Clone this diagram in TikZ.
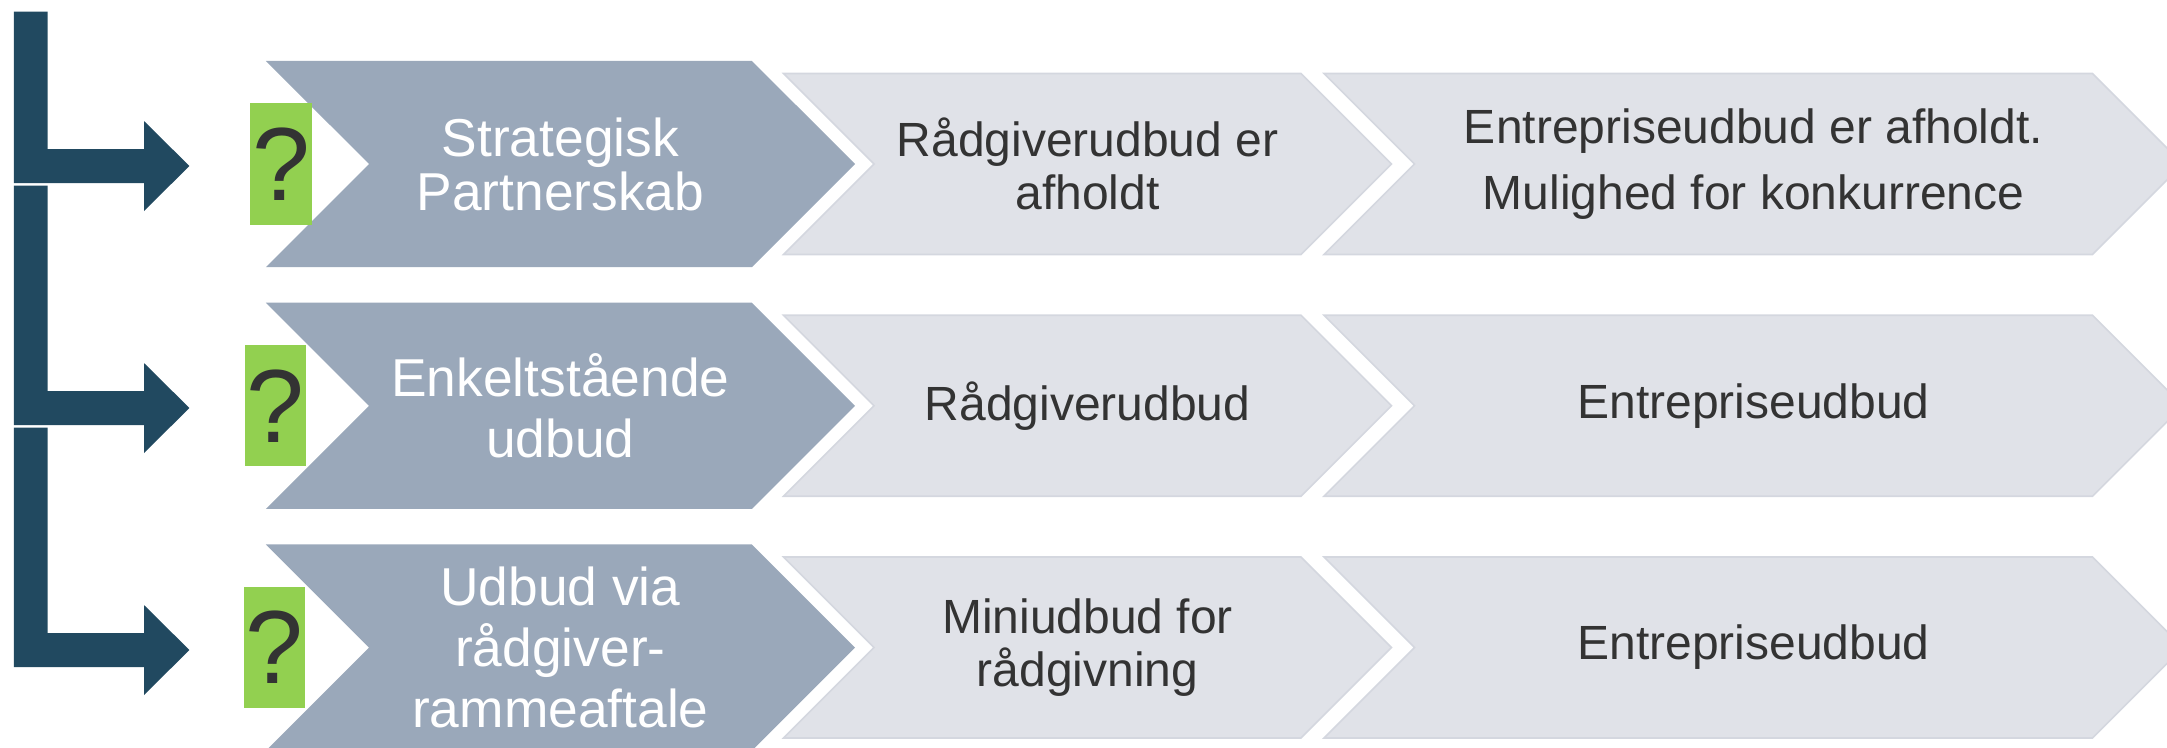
\documentclass[tikz,border=0pt]{standalone}
\usepackage{fontspec}
\setmainfont{Liberation Sans}
\usetikzlibrary{shapes.symbols}
\definecolor{pilblaa}{RGB}{33,73,96}
\definecolor{formgraa}{RGB}{154,168,186}
\definecolor{faselys}{RGB}{224,226,232}
\definecolor{fasekant}{RGB}{212,215,223}
\definecolor{spmgroen}{RGB}{146,208,80}
\definecolor{tekstgraa}{RGB}{51,51,51}

\begin{document}
\begin{tikzpicture}
[x=0.375pt,y=-0.375pt,
chev/.style={signal,signal from=west,signal to=east,signal pointer angle=90,inner sep=0pt,align=center},
form/.style={chev,fill=formgraa,text=white,minimum width=220.95pt,minimum height=77.4pt},
fase/.style={chev,fill=faselys,draw=fasekant,line width=0.6pt,text=tekstgraa,minimum height=67.9pt},
spm/.style={rectangle,fill=spmgroen,minimum width=22.9pt,minimum height=45.4pt,inner sep=0pt,text=tekstgraa,font=\fontsize{39}{42}\selectfont},
pil/.style={fill=pilblaa}]
\useasboundingbox (0,0) rectangle (2167,747);
%%%%% BRACKET ARROWS
\foreach \r/\top in {0/11.7,1/185.5,2/427.5}
{
	\pgfmathsetmacro\ya{166+242*\r}
	\fill[pil] (13.8,\top) -- (47.6,\top) |- (144,\ya-17) -- (144,\ya-45) -- (189.4,\ya) -- (144,\ya+45) -- (144,\ya+17) -- (13.8,\ya+17) -- cycle;
};
%%%%% ROWS
\foreach \r/\gx/\dtxt/\dskip/\mtxt/\ltxt in {0/281/{Strategisk\\Partnerskab}/20.25/{Rådgiverudbud er\\afholdt}/{Entrepriseudbud er afholdt.\\Mulighed for konkurrence},
1/275.5/{Enkeltstående\\udbud}/23/{Rådgiverudbud}/{Entrepriseudbud},
2/274.5/{Udbud via\\rådgiver-\\rammeaftale}/23/{Miniudbud for\\rådgivning}/{Entrepriseudbud}}
{
	\pgfmathsetmacro\yr{164+241.75*\r}
	\node[form,font=\fontsize{20}{\dskip}\selectfont] (form\r) at (560.4,\yr) {\dtxt};
	\node[spm] (spm\r) at (\gx,\yr) {?};
	\node[fase,minimum width=228pt,font=\fontsize{18}{20}\selectfont] (raad\r) at (1087.5,\yr) {\mtxt};
	\node[fase,minimum width=322.1pt,font=\fontsize{18}{24.75}\selectfont] (entr\r) at (1753.5,\yr) {\ltxt};
};
\end{tikzpicture}
\end{document}
